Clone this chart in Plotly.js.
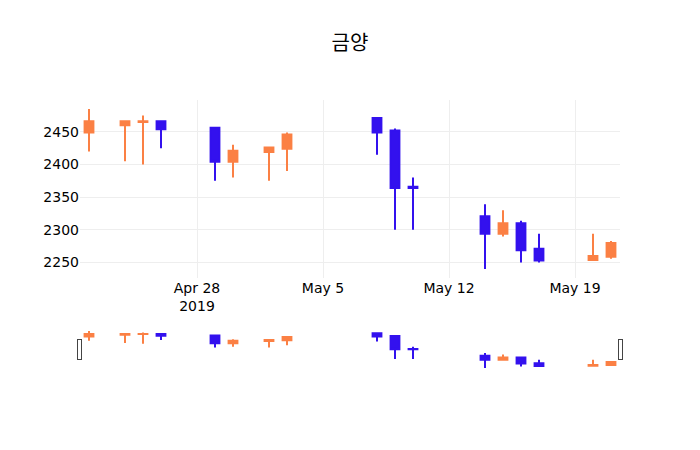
<!DOCTYPE html>
<html>
<head>
<meta charset="utf-8">
<script src="https://cdn.plot.ly/plotly-3.0.1.min.js"></script>
<style>html,body{margin:0;padding:0;}#chart{width:700px;height:450px;}</style>
</head>
<body>
<div id="chart"></div>
<script>
const dates = ["2019-04-22","2019-04-24","2019-04-25","2019-04-26","2019-04-29","2019-04-30","2019-05-02","2019-05-03","2019-05-08","2019-05-09","2019-05-10","2019-05-14","2019-05-15","2019-05-16","2019-05-17","2019-05-20","2019-05-21"];
const openVals  = [2449, 2460, 2465, 2466, 2456, 2404, 2419, 2424, 2471, 2452, 2366, 2321, 2294, 2310, 2271, 2254, 2259];
const highVals  = [2485, 2466, 2475, 2466, 2457, 2430, 2426, 2449, 2471, 2455, 2380, 2339, 2330, 2314, 2294, 2294, 2283];
const lowVals   = [2420, 2405, 2400, 2425, 2375, 2380, 2375, 2390, 2415, 2300, 2300, 2240, 2290, 2250, 2250, 2254, 2256];
const closeVals = [2466, 2466, 2466, 2454, 2404, 2421, 2426, 2446, 2449, 2364, 2364, 2294, 2310, 2269, 2253, 2260, 2280];
const titleText = "금양";

const incColor = "#FB8044";
const decColor = "#3311EE";

const trace = {
  type: "candlestick",
  x: dates,
  open: openVals,
  high: highVals,
  low: lowVals,
  close: closeVals,
  increasing: {line: {color: incColor}, fillcolor: incColor},
  decreasing: {line: {color: decColor}, fillcolor: decColor}
};

const layout = {
  width: 700,
  height: 450,
  font: {family: "DejaVu Sans, Noto Sans CJK KR, sans-serif", size: 14, color: "#000000"},
  title: {text: titleText, font: {family: "Noto Sans CJK KR, sans-serif", size: 20, color: "#000000"}},
  showlegend: false,
  xaxis: {rangeslider: {visible: true}},
  yaxis: {}
};

Plotly.newPlot("chart", [trace], layout, {displayModeBar: false});
</script>
</body>
</html>
